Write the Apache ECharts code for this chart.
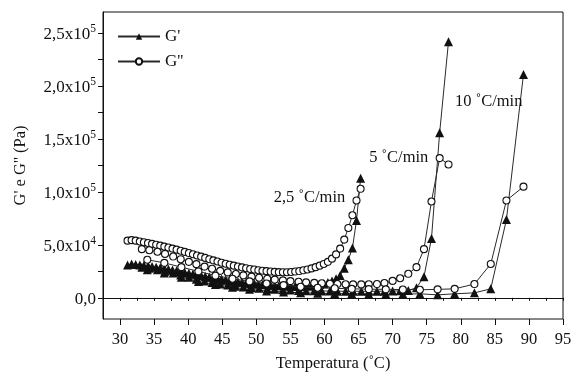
<!DOCTYPE html>
<html>
<head>
<meta charset="utf-8">
<script src="https://cdn.jsdelivr.net/npm/echarts@6/dist/echarts.min.js"></script>
<style>
  html, body { margin: 0; padding: 0; background: #fff; }
  #chart { width: 573px; height: 374px; }
</style>
</head>
<body>
<div id="chart"></div>
<script>
// Temperature (°C) and moduli (Pa) for each heating rate
const temp25 = [31.1,31.7,32.3,32.9,33.5,34.1,34.7,35.3,35.9,36.5,37.1,37.7,38.3,38.9,39.5,40.1,40.7,41.3,41.9,42.5,43.1,43.7,44.3,44.9,45.5,46.1,46.7,47.3,47.9,48.5,49.1,49.7,50.3,50.9,51.5,52.1,52.7,53.3,53.9,54.5,55.1,55.7,56.3,56.9,57.5,58.1,58.7,59.3,59.9,60.5,61.1,61.7,62.3,62.9,63.5,64.1,64.7,65.3];
const gPrime25 = [31000,32000,31500,31000,30500,30000,29500,29000,28300,27600,
  27000,26200,25500,24800,24000,23300,22500,21800,21000,20300,
  19600,19000,18300,17700,17000,16400,15900,15300,14800,14300,
  13800,13400,13000,12600,12300,12000,11700,11500,11300,11100,
  11000,11000,11000,11100,11300,11600,12000,12600,13400,14500,
  16000,18000,21000,28000,36000,47000,73000,113000];
const gDouble25 = [54000,54500,54000,53200,52500,51800,51000,50200,49300,48400,
  47500,46500,45500,44500,43400,42300,41200,40000,38900,37700,
  36500,35400,34300,33200,32200,31300,30400,29600,28800,28000,
  27300,26700,26100,25600,25200,24800,24500,24300,24200,24200,
  24400,24800,25300,26000,26800,27800,29000,30400,32000,34000,
  37000,41000,46500,55000,66000,78000,92000,103000];

const temp5 = [33.2,34.3,35.5,36.6,37.8,38.9,40.1,41.2,42.4,43.5,44.7,45.8,47.0,48.1,49.3,50.4,51.6,52.7,53.9,55.0,56.2,57.3,58.5,59.6,60.8,61.9,63.1,64.2,65.4,66.5,67.7,68.8,70.0,71.1,72.3,73.5,74.6,75.7,76.9,78.2];
const gPrime5 = [29000,28000,26500,25000,23500,21500,19500,17500,16000,14500,
  13000,12000,11000,10200,9500,9000,8500,8000,7600,7300,
  7000,6800,6600,6500,6400,6300,6200,6200,6200,6200,
  6200,6300,6400,6600,7000,9500,20000,56000,156000,242000];
const gDouble5 = [46000,45000,43500,41500,39000,36500,34000,31800,29500,27500,
  25500,24000,22500,21200,20000,19000,18000,17200,16500,15800,
  15200,14600,14100,13700,13300,13000,12800,12700,12700,12800,
  13000,14000,16000,18500,22700,29000,46000,91000,132000,126000];

const temp10 = [34.0,36.5,39.0,41.5,44.0,46.5,49.0,51.5,54.0,56.5,59.0,61.5,64.0,66.5,69.0,71.5,74.0,76.6,79.1,82.0,84.4,86.7,89.2];
const gPrime10 = [26500,23500,19500,15500,12500,10000,8000,6500,5500,4800,4300,4000,3800,3600,3500,3500,3800,2800,3800,4700,8500,74000,211000];
const gDouble10 = [36000,33000,29000,25000,21000,18000,15500,13500,12000,10500,9500,9000,8500,8200,8000,7800,7600,8000,8500,13000,32000,92000,105000];

// Axis ticks
const xMajorTicks = [30,35,40,45,50,55,60,65,70,75,80,85,90,95];
const xMinorTicks = [30,32.5,35,37.5,40,42.5,45,47.5,50,52.5,55,57.5,60,62.5,65,67.5,70,72.5,75,77.5,80,82.5,85,87.5,90,92.5,95];
const yMajorTicks = [0,50000,100000,150000,200000,250000];
const yMinorTicks = [0,25000,50000,75000,100000,125000,150000,175000,200000,225000,250000];
const yTickMantissa = ['0,0','5,0','1,0','1,5','2,0','2,5'];
const yTickExponent = ['','4','5','5','5','5'];

// Rate annotations: text with its anchor in data space
const rateText = ['2,5 \u02daC/min', '5 \u02daC/min', '10 \u02daC/min'];
const rateAnchor = [[57.8, 94700], [70.9, 132600], [84.1, 185600]];

const serif = '"Liberation Serif", "DejaVu Serif", serif';
const ink = '#111';

function zip(xs, ys) { return xs.map((x, i) => [x, ys[i]]); }

function gPrimeSeries(xs, ys) {
  return {
    type: 'line', name: "G'", data: zip(xs, ys),
    symbol: 'triangle', symbolSize: 9, showAllSymbol: true,
    itemStyle: { color: ink, borderColor: ink, borderWidth: 0 },
    lineStyle: { color: '#2a2a2a', width: 1 },
    emphasis: { disabled: true }, animation: false, z: 2
  };
}
function gDoubleSeries(xs, ys) {
  return {
    type: 'line', name: "G''", data: zip(xs, ys),
    symbol: 'circle', symbolSize: 7, showAllSymbol: true,
    itemStyle: { color: '#fff', borderColor: ink, borderWidth: 1.1 },
    lineStyle: { color: '#2a2a2a', width: 1 },
    emphasis: { disabled: true }, animation: false, z: 3
  };
}

const chart = echarts.init(document.getElementById('chart'), null, { renderer: 'canvas' });

const xCommon = {
  type: 'value', min: 27.5, max: 95,
  splitLine: { show: false }
};

chart.setOption({
  animation: false,
  backgroundColor: '#fff',
  grid: {
    left: 103, right: 10, top: 12, bottom: 55,
    containLabel: false, outerBoundsMode: 'none',
    show: true, borderColor: ink, borderWidth: 1, backgroundColor: 'transparent'
  },
  legend: {
    left: 112, top: 23, orient: 'vertical', itemGap: 8,
    itemWidth: 42, itemHeight: 8,
    data: ["G'", "G''"],
    textStyle: { fontFamily: serif, fontSize: 17, color: ink },
    selectedMode: false
  },
  xAxis: [
    Object.assign({}, xCommon, {
      name: 'Temperatura (\u02daC)', nameLocation: 'middle', nameGap: 36,
      nameTextStyle: { fontFamily: serif, fontSize: 16.5, color: ink },
      axisLine: { show: true, lineStyle: { color: ink, width: 1 } },
      axisTick: { show: true, length: 3, customValues: xMinorTicks, lineStyle: { color: ink } },
      axisLabel: { customValues: xMajorTicks, margin: 12, fontFamily: serif, fontSize: 16.5, color: ink }
    }),
    Object.assign({}, xCommon, {
      position: 'bottom',
      axisLine: { show: false },
      axisTick: { show: true, length: 6, customValues: xMajorTicks, lineStyle: { color: ink } },
      axisLabel: { show: false }
    })
  ],
  yAxis: {
    type: 'value', min: -20000, max: 270000,
    splitLine: { show: false },
    name: "G' e G'' (Pa)", nameLocation: 'middle', nameGap: 74, nameRotate: 90,
    nameTextStyle: { fontFamily: serif, fontSize: 16.5, color: ink },
    axisLine: { show: true, lineStyle: { color: ink, width: 1 } },
    axisTick: { show: true, length: 5, customValues: yMinorTicks, lineStyle: { color: ink } },
    axisLabel: {
      customValues: yMajorTicks, margin: 7,
      formatter: function (v) {
        const i = yMajorTicks.indexOf(v);
        if (i < 0) return '';
        if (!yTickExponent[i]) return '{m|' + yTickMantissa[i] + '}';
        return '{m|' + yTickMantissa[i] + 'x10}{s|' + yTickExponent[i] + '}';
      },
      rich: {
        m: { fontFamily: serif, fontSize: 17, color: ink, lineHeight: 20, verticalAlign: 'bottom' },
        s: { fontFamily: serif, fontSize: 11.5, color: ink, lineHeight: 20, verticalAlign: 'top', padding: [0, 0, 8, 0] }
      }
    }
  },
  series: [
    gPrimeSeries(temp25, gPrime25),
    gPrimeSeries(temp5, gPrime5),
    gPrimeSeries(temp10, gPrime10),
    gDoubleSeries(temp25, gDouble25),
    gDoubleSeries(temp5, gDouble5),
    gDoubleSeries(temp10, gDouble10),
    {
      type: 'scatter', name: 'rates', symbolSize: 0, silent: true, z: 5,
      data: rateAnchor.map((p, i) => ({ value: p, label: { formatter: rateText[i] } })),
      label: { show: true, position: 'inside', fontFamily: serif, fontSize: 16.5, color: ink, textBorderWidth: 0, opacity: 1 }
    }
  ]
});
</script>
</body>
</html>
